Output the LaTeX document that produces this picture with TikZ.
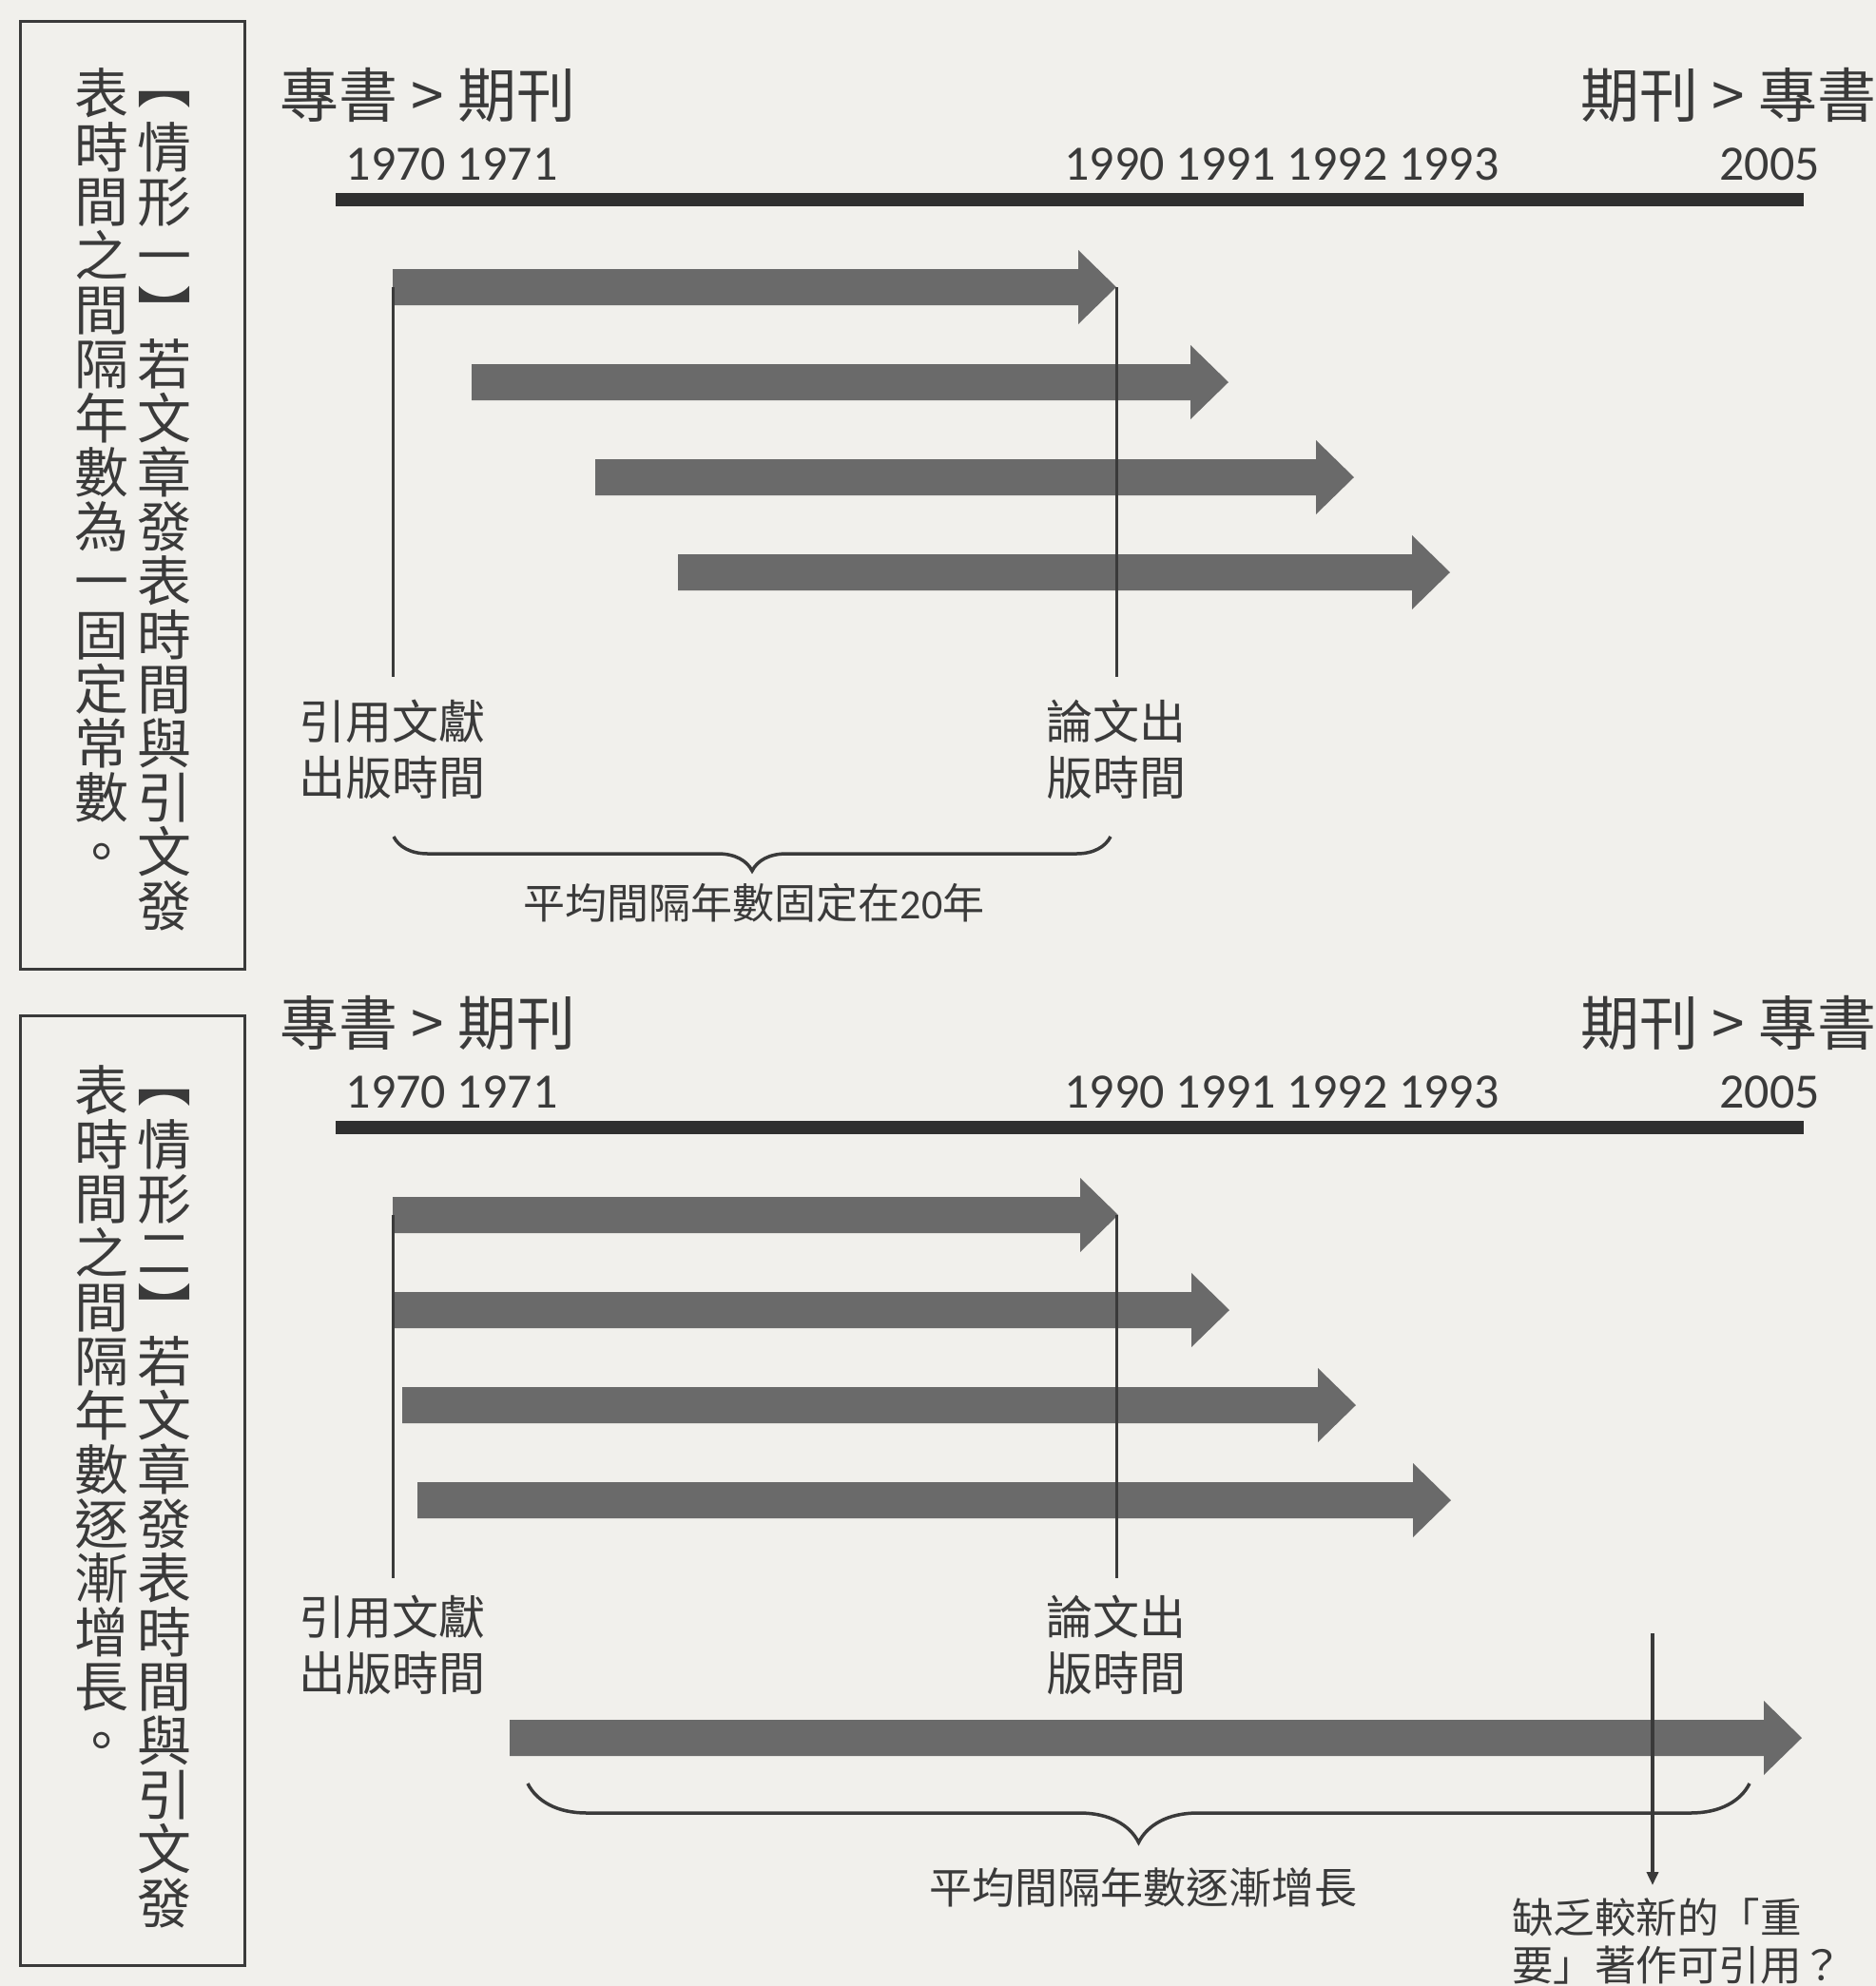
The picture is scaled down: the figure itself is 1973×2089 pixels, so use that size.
\documentclass[tikz,border=0pt]{standalone}
\usepackage{fontspec}
\setmainfont{Noto Sans CJK TC}
\newfontfamily\latf{Carlito}
\usetikzlibrary{decorations.pathreplacing,arrows.meta}
\definecolor{bgc}{HTML}{F1F0EC}
\definecolor{txt}{HTML}{3A3A3A}
\definecolor{arrc}{HTML}{6A6A6A}
\definecolor{barc}{HTML}{2F2F2F}
\definecolor{linec}{HTML}{3A3A3A}
\newcommand\blockarr[3]{%
  \fill[arrc] (#1,#3-19) -- (#2-40,#3-19) -- (#2-40,#3-39) -- (#2,#3)
    -- (#2-40,#3+39) -- (#2-40,#3+19) -- (#1,#3+19) -- cycle;}
\begin{document}
\begin{tikzpicture}[x=1pt,y=-1pt,
  vchar/.style={font=\fontsize{57}{57}\selectfont, text=txt, inner sep=0pt, text height=50pt, text depth=7pt},
  headtxt/.style={font=\fontsize{62}{62}\selectfont, text=txt, inner sep=0pt},
  yeartxt/.style={font=\latf\fontsize{52}{52}\selectfont, text=txt, inner sep=0pt},
  labtxt/.style={font=\fontsize{49}{59}\selectfont, text=txt, inner sep=0pt, align=center},
  boxline/.style={draw=linec, line width=3pt},
  barline/.style={draw=barc, line width=14pt},
  vline/.style={draw=linec, line width=3pt},
  bracel/.style={draw=linec, line width=3.5pt, decorate},
]
\useasboundingbox (0,0) rectangle (1973,2089);
\fill[bgc] (0,0) rectangle (1973,2089);

% ---------- side boxes ----------
\draw[boxline] (21,22) rectangle (257,1019);
\draw[boxline] (21,1068) rectangle (257,2067);
% box 1, right column
\node[vchar] (bar-0) at (173,87) {︻};
\foreach \c [count=\i from 1] in {情,形,一}
  \node[vchar] (bar-\i) at (173,98+57*\i) {\c};
\node[vchar] (bar-4) at (173,98+57*4+2) {︼};
\foreach \c [count=\i from 5] in {若,文,章,發,表,時,間,與,引,文,發}
  \node[vchar] (bar-\i) at (173,98+57*\i) {\c};
% box 1, left column
\foreach \c [count=\i from 0] in {表,時,間,之,間,隔,年,數,為,一,固,定,常,數,。}
  \node[vchar] (bal-\i) at (107,98+57*\i) {\c};
% box 2, right column
\node[vchar] (bbr-0) at (173,1137) {︻};
\foreach \c [count=\i from 1] in {情,形,二}
  \node[vchar] (bbr-\i) at (173,1147+57*\i) {\c};
\node[vchar] (bbr-4) at (173,1147+57*4+2) {︼};
\foreach \c [count=\i from 5] in {若,文,章,發,表,時,間,與,引,文,發}
  \node[vchar] (bbr-\i) at (173,1147+57*\i) {\c};
% box 2, left column
\foreach \c [count=\i from 0] in {表,時,間,之,間,隔,年,數,逐,漸,增,長,。}
  \node[vchar] (bbl-\i) at (107,1147+57*\i) {\c};

% ---------- top section ----------
\node[headtxt] (h1l) at (450,100) {專書 > 期刊};
\node[headtxt] (h1r) at (1818,100) {期刊 > 專書};
\node[yeartxt] (y1a) at (475,173) {1970 1971};
\node[yeartxt] (y1b) at (1348,173) {1990 1991 1992 1993};
\node[yeartxt] (y1c) at (1861,173) {2005};
\coordinate (t1a) at (353,210);
\coordinate (t1b) at (1897,210);
\draw[barline] (t1a) -- (t1b);

\blockarr{413}{1174}{302}
\blockarr{496}{1292}{402}
\blockarr{626}{1424}{502}
\blockarr{713}{1525}{602}
\coordinate (a1s) at (413,302);
\coordinate (a1t) at (1174,302);
\coordinate (a1sd) at (413,712);
\coordinate (a1td) at (1174,712);
\draw[vline] (a1s) -- (a1sd);
\draw[vline] (a1t) -- (a1td);

\node[labtxt] (lab1l) at (412,788) {引用文獻\\出版時間};
\node[labtxt] (lab1r) at (1174,788) {論文出\\版時間};
\coordinate (br1a) at (414,880);
\coordinate (br1b) at (1168,880);
\draw[bracel, decoration={brace, mirror, amplitude=36pt}] (br1a) -- (br1b);
\node[labtxt, font=\fontsize{44}{54}\selectfont] (mean1) at (793,950) {平均間隔年數固定在{\latf 20}年};

% ---------- bottom section ----------
\node[headtxt] (h2l) at (450,1076) {專書 > 期刊};
\node[headtxt] (h2r) at (1818,1076) {期刊 > 專書};
\node[yeartxt] (y2a) at (475,1149) {1970 1971};
\node[yeartxt] (y2b) at (1348,1149) {1990 1991 1992 1993};
\node[yeartxt] (y2c) at (1861,1149) {2005};
\coordinate (t2a) at (353,1186);
\coordinate (t2b) at (1897,1186);
\draw[barline] (t2a) -- (t2b);

\blockarr{413}{1176}{1278}
\blockarr{413}{1293}{1378}
\blockarr{423}{1426}{1478}
\blockarr{439}{1526}{1578}
\coordinate (a2s) at (413,1278);
\coordinate (a2t) at (1174,1278);
\coordinate (a2sd) at (413,1660);
\coordinate (a2td) at (1174,1660);
\draw[vline] (a2s) -- (a2sd);
\draw[vline] (a2t) -- (a2td);

\node[labtxt] (lab2l) at (412,1730) {引用文獻\\出版時間};
\node[labtxt] (lab2r) at (1174,1730) {論文出\\版時間};

\blockarr{536}{1895}{1828}
\coordinate (br2a) at (555,1876);
\coordinate (br2b) at (1840,1876);
\draw[bracel, decoration={brace, mirror, amplitude=62pt}] (br2a) -- (br2b);
\node[labtxt, font=\fontsize{45}{55}\selectfont] (mean2) at (1202,1985) {平均間隔年數逐漸增長};

\coordinate (q1) at (1738,1718);
\coordinate (q2) at (1738,1983);
\draw[draw=linec, line width=4pt, -{Triangle[length=14pt,width=12pt]}] (q1) -- (q2);
\node[anchor=north west, align=left, inner sep=0pt, text=txt, font=\fontsize{43.5}{50}\selectfont] (quest) at (1590,1996) {缺乏較新的「重\\要」著作可引用？};
\end{tikzpicture}
\end{document}
